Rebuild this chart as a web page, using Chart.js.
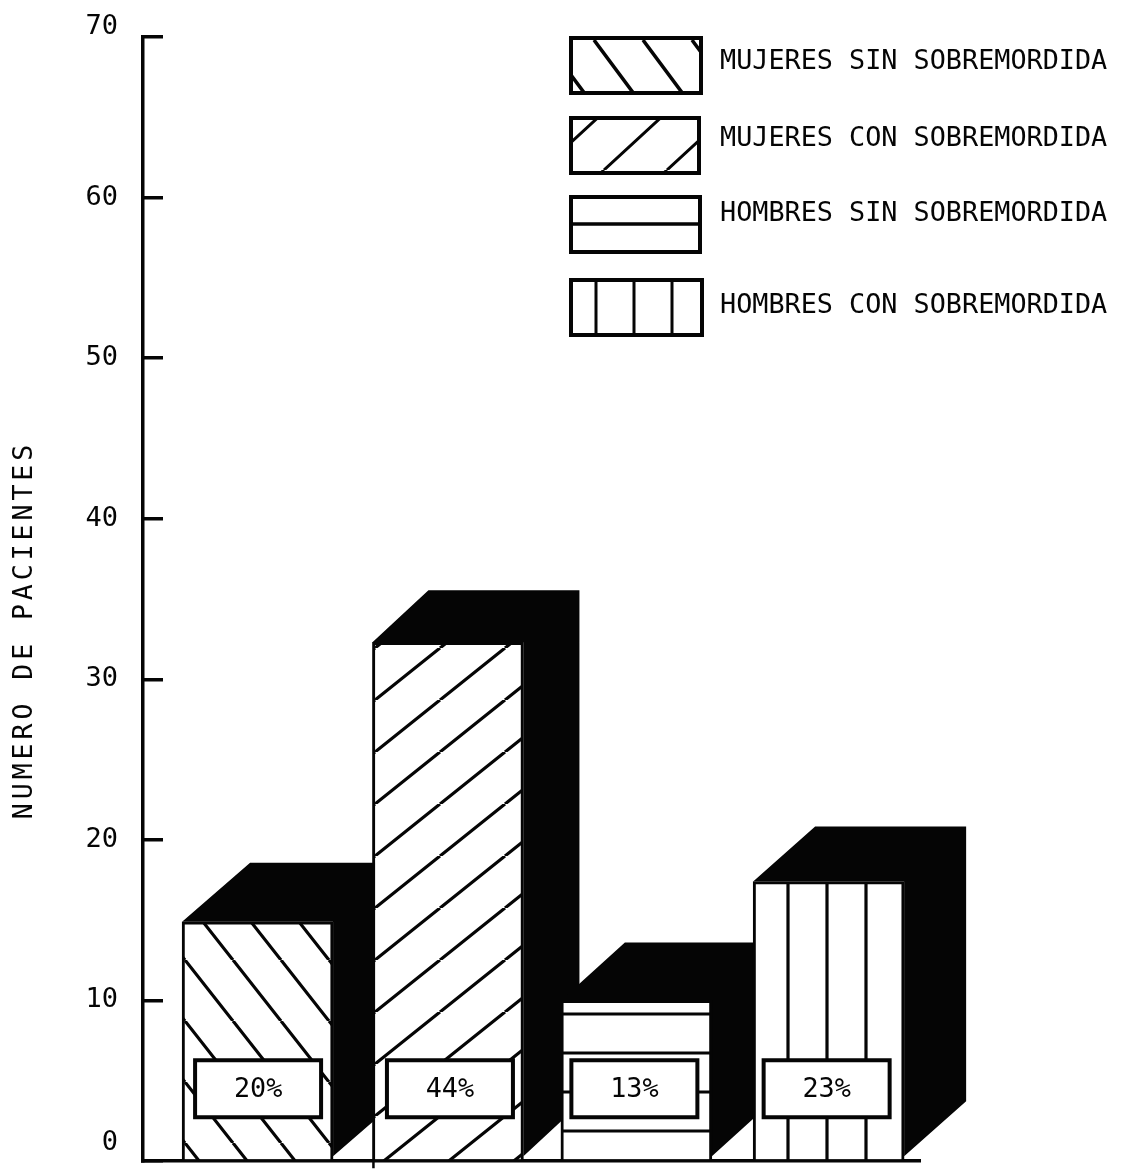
<!DOCTYPE html>
<html>
<head>
<meta charset="utf-8">
<style>html,body{margin:0;padding:0;background:#fff}canvas{display:block}</style>
<script src="https://cdn.jsdelivr.net/npm/chart.js@4"></script>
</head>
<body>
<canvas id="c" width="1124" height="1174"></canvas>
<script>
const categories = ["MUJERES SIN SOBREMORDIDA","MUJERES CON SOBREMORDIDA","HOMBRES SIN SOBREMORDIDA","HOMBRES CON SOBREMORDIDA"];
const patientCounts = [14.9, 32.3, 10, 17.4];
const percentLabels = ["20%","44%","13%","23%"];
const yTickValues = [0,10,20,30,40,50,60,70];
const yAxisTitle = "NUMERO DE PACIENTES";
const barSlots = [1, 2, 2.99, 4];

const INK = "#050505";
const FONT = '"DejaVu Sans Mono", monospace';
const barDepth = [{dx:68,dy:59},{dx:56,dy:52},{dx:64,dy:58},{dx:62,dy:55}];
const boxShift = [0.5,2,-2,-2];
const legendBoxes = [{x:571,y:38,w:130,h:55,ty:62},{x:571,y:118,w:128,h:55,ty:139},{x:571,y:197,w:129,h:55,ty:214},{x:571,y:280,w:131,h:55,ty:306}];

// kind: 'down' | 'up' | 'h' | 'v'; (ox,oy) is a canvas point the hatch line passes through
function hatch(kind,w,h,ox,oy,lw){
  const t=document.createElement('canvas');t.width=w;t.height=h;
  const g=t.getContext('2d');
  g.fillStyle='#fff';g.fillRect(0,0,w,h);
  g.strokeStyle=INK;g.lineWidth=lw;
  g.beginPath();
  if(kind==='h'){g.moveTo(0,0);g.lineTo(w,0);g.moveTo(0,h);g.lineTo(w,h);}
  else if(kind==='v'){g.moveTo(0,0);g.lineTo(0,h);g.moveTo(w,0);g.lineTo(w,h);}
  else if(kind==='down'){
    for(const s of [-1,0,1]){g.moveTo(s*w,0);g.lineTo(s*w+w,h);}
  } else {
    for(const s of [-1,0,1]){g.moveTo(s*w,h);g.lineTo(s*w+w,0);}
  }
  g.stroke();
  const p=document.createElement('canvas').getContext('2d').createPattern(t,'repeat');
  p.setTransform(new DOMMatrix().translate(ox,oy));
  return p;
}
const barFills = [
  hatch('down',48,61,185,960,3.2),
  hatch('up',65,52,375,908-52,3.2),
  hatch('h',60,39,0,1014,3.2),
  hatch('v',39,60,788,0,3.2)
];
const legendFills = [
  hatch('down',49,66,594,40,3.5),
  hatch('up',63,58,604,170-58,3),
  hatch('h',60,80,0,224,3.5),
  hatch('v',38,60,596,0,3)
];

const solidPlugin = {
  id:'solids',
  beforeDraw(chart){
    const ctx=chart.ctx, y=chart.scales.y;
    // nudge the two end labels off their ticks, as on the original sheet
    y.getLabelItems().forEach(it=>{
      if(it._done) return; it._done=true;
      if(it.label==='0') it.options.translation[1]-=18;
      if(it.label==='70') it.options.translation[1]-=10;
    });
    if(!y._wrapped){
      y._wrapped=true;
      const orig=y.drawTitle;
      y.drawTitle=function(){
        ctx.save();ctx.translate(0,31);ctx.letterSpacing='3.9px';
        orig.apply(this,arguments);
        ctx.letterSpacing='0px';ctx.restore();
      };
    }
  },
  beforeDatasetsDraw(chart){
    const ctx=chart.ctx;
    ctx.save();ctx.fillStyle=INK;
    chart.getDatasetMeta(0).data.forEach((el,i)=>{
      const {dx,dy}=barDepth[i];
      const l=el.x-el.width/2,r=el.x+el.width/2,t=el.y,b=el.base-3;
      ctx.beginPath();
      ctx.moveTo(l,t);ctx.lineTo(l+dx,t-dy);ctx.lineTo(r+dx,t-dy);
      ctx.lineTo(r+dx,b-dy);ctx.lineTo(r,b);ctx.lineTo(r,t);ctx.closePath();
      ctx.fill();
    });
    ctx.restore();
  },
  afterDatasetsDraw(chart){
    const ctx=chart.ctx,y=chart.scales.y;
    ctx.save();
    // percentage boxes
    chart.getDatasetMeta(0).data.forEach((el,i)=>{
      const cx=el.x+boxShift[i],cy=y.getPixelForValue(4.5),w=126,h=57;
      ctx.fillStyle='#fff';ctx.strokeStyle=INK;ctx.lineWidth=4;
      ctx.beginPath();ctx.rect(cx-w/2,cy-h/2,w,h);ctx.fill();ctx.stroke();
      ctx.fillStyle=INK;ctx.font='26.8px '+FONT;ctx.textAlign='center';ctx.textBaseline='middle';
      ctx.fillText(percentLabels[i],cx,cy+1);
    });
    // small stub under the axis where the second bar starts
    const second=chart.getDatasetMeta(0).data[1];
    ctx.strokeStyle=INK;ctx.lineWidth=2.5;ctx.beginPath();
    ctx.moveTo(second.x-second.width/2+1,second.base);ctx.lineTo(second.x-second.width/2+1,second.base+9);ctx.stroke();
    // legend
    categories.forEach((name,i)=>{
      const b=legendBoxes[i];
      ctx.fillStyle=legendFills[i];ctx.strokeStyle=INK;ctx.lineWidth=4;
      ctx.beginPath();ctx.rect(b.x,b.y,b.w,b.h);ctx.fill();ctx.stroke();
      ctx.fillStyle=INK;ctx.font='26.8px '+FONT;ctx.textAlign='left';ctx.textBaseline='middle';
      ctx.fillText(name,720,b.ty);
    });
    ctx.restore();
  }
};

new Chart(document.getElementById('c'),{
  type:'bar',
  plugins:[solidPlugin],
  data:{datasets:[{
    label:yAxisTitle,
    data:patientCounts.map((v,i)=>({x:barSlots[i],y:v})),
    backgroundColor:barFills,
    borderColor:INK,
    borderWidth:3,
    borderSkipped:'bottom',
    barThickness:151
  }]},
  options:{
    responsive:false,
    animation:false,
    devicePixelRatio:1,
    layout:{padding:{top:37,bottom:13,right:204,left:0}},
    plugins:{legend:{display:false},tooltip:{enabled:false},title:{display:false}},
    scales:{
      x:{
        type:'linear',min:0.398,max:4.48,offset:false,
        ticks:{display:false},
        grid:{display:false,drawTicks:false},
        border:{color:INK,width:3.5},
        afterFit(s){s.height=0;s.paddingLeft=0;s.paddingRight=0;s.paddingTop=0;s.paddingBottom=0;}
      },
      y:{
        min:0,max:70,
        afterBuildTicks(s){s.ticks=yTickValues.map(v=>({value:v}));},
        ticks:{color:INK,padding:45,font:{family:FONT,size:27},autoSkip:false},
        grid:{drawOnChartArea:false,drawTicks:true,tickLength:-20,color:INK,lineWidth:3.5},
        border:{color:INK,width:3.5},
        title:{display:true,text:yAxisTitle,color:INK,font:{family:FONT,size:26.6},padding:{top:9,bottom:0}},
        afterFit(s){s.width=143;s.paddingTop=0;s.paddingBottom=0;s.paddingLeft=0;s.paddingRight=0;}
      }
    }
  }
});
</script>
</body>
</html>
